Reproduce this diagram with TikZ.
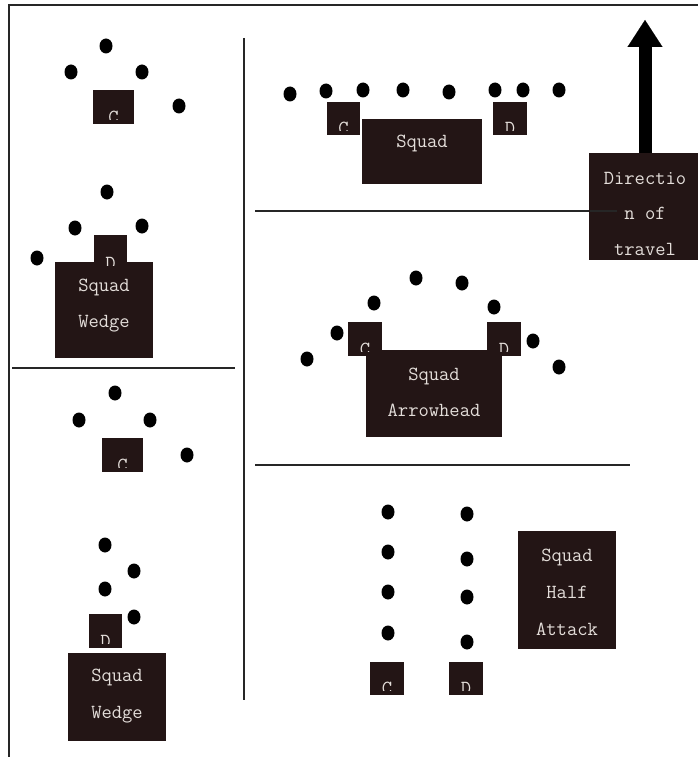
\documentclass[tikz,border=0pt]{standalone}
\usepackage{fontspec}
\usetikzlibrary{arrows.meta,shapes.geometric}
\definecolor{boxfill}{HTML}{231515}
\definecolor{boxtext}{HTML}{E4DEDA}
\begin{document}
\begin{tikzpicture}[x=1pt,y=-1pt,
  soldier/.style={ellipse,fill=black,draw=none,minimum width=13pt,minimum height=15pt,inner sep=0pt},
  sqbox/.style={fill=boxfill,draw=none,inner sep=0pt},
  lbl/.style={text=boxtext,font=\ttfamily\fontsize{20}{20}\selectfont,inner sep=0pt,anchor=mid},
  letter/.style={text=boxtext,font=\ttfamily\fontsize{20}{20}\selectfont,inner sep=0pt,anchor=north},
  rule/.style={line width=1.4pt,draw=black!85}
]
\useasboundingbox (0,0) rectangle (698,757);
\clip (0,0) rectangle (698,757);

% frame and dividers
\draw[rule] (9,757) -- (9,5) -- (698,5);
\draw[rule] (244,38) -- (244,700);
\draw[rule] (12,368) -- (235,368);
\draw[rule] (255,211) -- (617,211);
\draw[rule] (255,465) -- (630,465);

% squad boxes
\node[sqbox,minimum width=98pt,minimum height=96pt] (w1) at (104,310) {};
\node[lbl] (w1a) at (104,289) {Squad};
\node[lbl] (w1b) at (104,325) {Wedge};

\node[sqbox,minimum width=98pt,minimum height=88pt] (w2) at (117,697) {};
\node[lbl] (w2a) at (117,679) {Squad};
\node[lbl] (w2b) at (117,716) {Wedge};

\node[sqbox,minimum width=120pt,minimum height=65pt] (s3) at (422,151.5) {};
\node[lbl] (s3a) at (422,145) {Squad};

\node[sqbox,minimum width=136pt,minimum height=87pt] (a4) at (434,393.5) {};
\node[lbl] (a4a) at (434,378) {Squad};
\node[lbl] (a4b) at (434,414) {Arrowhead};

\node[sqbox,minimum width=98pt,minimum height=118pt] (h5) at (567,590) {};
\node[lbl] (h5a) at (567,559) {Squad};
\node[lbl] (h5b) at (567,596) {Half};
\node[lbl] (h5c) at (567,633) {Attack};

% direction of travel
\node[sqbox,minimum width=112pt,minimum height=107pt] (dir) at (645,206.5) {};
\begin{scope}
  \clip (589,153) rectangle (701,258);
  \node[lbl] (dira) at (645,182) {Directio};
  \node[lbl] (dirb) at (645,217) {n of};
  \node[lbl] (dirc) at (645,253) {travel};
\end{scope}
\coordinate (tip) at (645,20);
\draw[line width=13pt,-{Triangle[width=35pt,length=27pt,line width=0.1pt]}] (dir.north) -- (tip);
\draw[rule] (590,211) -- (617,211);

% team leader boxes (C / D), letters cut off by the box edge
\newcommand{\tlbox}[5]{%
  \node[sqbox,minimum width=#3pt,minimum height=#4pt] (#1) at (#2) {};
  \begin{scope}
    \clip ([yshift=5pt]#1.south west) rectangle (#1.north east);
    \node[letter] (#1l) at ([yshift=13pt]#1.south) {#5};
  \end{scope}}
\tlbox{c1}{113.5,107}{41}{34}{C}
\tlbox{d1}{110.5,252.5}{33}{35}{D}
\tlbox{c2}{122.5,455}{41}{34}{C}
\tlbox{d2}{105.5,631}{33}{34}{D}
\tlbox{c3}{343.5,118.5}{33}{33}{C}
\tlbox{d3}{510,118.5}{34}{33}{D}
\tlbox{c4}{365,339}{34}{34}{C}
\tlbox{d4}{504,339}{34}{34}{D}
\tlbox{c5}{387,678.5}{34}{33}{C}
\tlbox{d5}{466,678.5}{34}{33}{D}

% soldiers
\foreach \p [count=\i] in {{106,46},{71,72},{142,72},{179,106},{107,192},{75,228},{142,226},{37,258}}
  \node[soldier] (pa\i) at (\p) {};
\foreach \p [count=\i] in {{115,393},{79,420},{150,420},{187,455},{105,545},{134,571},{105,589},{134,617}}
  \node[soldier] (pb\i) at (\p) {};
\foreach \p [count=\i] in {{290,94},{326,91},{363,90},{403,90},{449,92},{495,90},{523,90},{559,90}}
  \node[soldier] (pc\i) at (\p) {};
\foreach \p [count=\i] in {{416,278},{462,283},{374,303},{494,307},{337,333},{533,341},{307,359},{559,367}}
  \node[soldier] (pd\i) at (\p) {};
\foreach \p [count=\i] in {{388,512},{388,552},{388,592},{388,633},{467,514},{467,559},{467,597},{467,642}}
  \node[soldier] (pe\i) at (\p) {};
\end{tikzpicture}
\end{document}
